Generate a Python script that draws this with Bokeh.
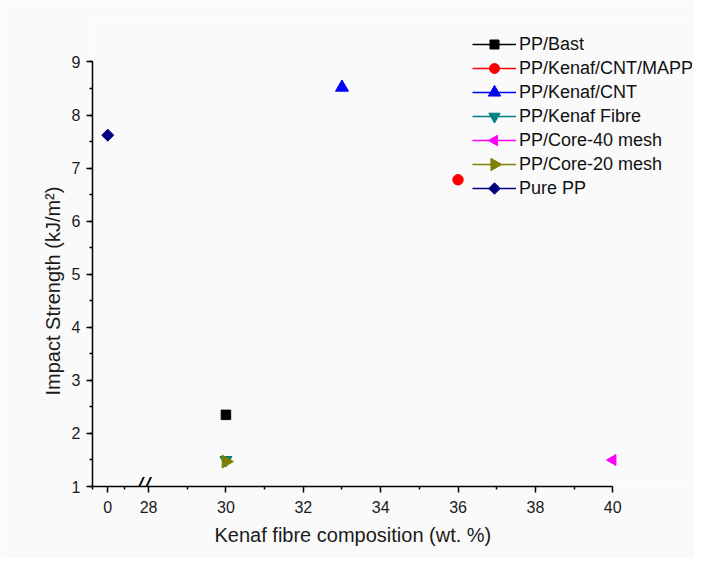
from math import pi
from bokeh.plotting import figure
from bokeh.models import (Range1d, FixedTicker, SingleIntervalTicker, Legend, LegendItem, Label, Title)
from bokeh.embed import file_html
from bokeh.resources import INLINE

# ---- data ----
series = ["PP/Bast", "PP/Kenaf/CNT/MAPP", "PP/Kenaf/CNT", "PP/Kenaf Fibre",
          "PP/Core-40 mesh", "PP/Core-20 mesh", "Pure PP"]
fibre = [30, 36, 33, 30, 40, 30, 0]                  # wt. %
impact = [2.35, 6.78, 8.52, 1.50, 1.50, 1.47, 7.62]  # kJ/m2
colors = ["#000000", "#ff0000", "#0000ff", "#008080", "#ff00ff", "#808000", "#000080"]
markers = ["square", "circle", "triangle", "inverted_triangle", "triangle", "triangle", "square"]
angles = [0, 0, 0, 0, pi / 2, -pi / 2, pi / 4]
sizes = [9.5, 10.5, 13, 12, 11, 13, 8.5]

x_major = [0, 28, 30, 32, 34, 36, 38, 40]
x_minor_right = [29, 31, 33, 35, 37, 39]

# broken axis: the value 0 is drawn just left of the 28..40 segment
ZERO_POS = 26.945
LEFT_END = 26.55
LEFT_MINOR = 27.367


def axis_pos(v):
    return ZERO_POS if v == 0 else v


FONT = "Liberation Sans"
W, H = 694, 558
ML, MR, MT, MB = 92, 2, 20, 72
FW, FH = W - ML - MR, H - MT - MB
PX_PER_X = 38.68
PX_PER_Y = 53.07

p = figure(width=W, height=H, output_backend="svg", toolbar_location=None,
           x_range=Range1d(LEFT_END, LEFT_END + FW / PX_PER_X),
           y_range=Range1d(1, 1 + FH / PX_PER_Y),
           min_border_left=ML, min_border_right=MR, min_border_top=MT, min_border_bottom=MB)
# pixel-based ranges over the frame, used for legend symbols
p.extra_x_ranges = {"lx": Range1d(0, FW)}
p.extra_y_ranges = {"ly": Range1d(0, FH)}

bg = "#fafafa"
p.background_fill_color = bg
p.border_fill_color = bg
p.outline_line_color = None
p.xgrid.visible = False
p.ygrid.visible = False

# legend geometry (pixels, relative to the plot frame)
LEG_X, LEG_Y = 380, 286
GLYPH_W, ROW_H = 44, 24

items = []
n = len(series)
for i, (name, xv, yv, c, m, a, s) in enumerate(zip(series, fibre, impact, colors, markers, angles, sizes)):
    xs = [axis_pos(xv)]
    ys = [yv]
    ln = p.line(xs, ys, line_color=c, line_width=1.5)
    p.scatter(xs, ys, marker=m, size=s, angle=a, fill_color=c, line_color=c)
    items.append(LegendItem(label=name, renderers=[ln]))
    # legend symbol drawn on top of the legend line (keeps marker rotation)
    p.scatter([LEG_X + GLYPH_W / 2], [LEG_Y + (n - i - 0.5) * ROW_H], marker=m,
              size=s * 0.95, angle=a, fill_color=c, line_color=c,
              x_range_name="lx", y_range_name="ly", level="overlay")

legend = Legend(items=items, location=(LEG_X, LEG_Y), padding=0, margin=0, spacing=0,
                glyph_width=GLYPH_W, glyph_height=ROW_H, label_height=ROW_H, label_standoff=3,
                label_text_font=FONT, label_text_font_size="18px", label_text_color="#111111",
                border_line_color=None, background_fill_alpha=0)
p.add_layout(legend, "center")

# x axis
xa = p.xaxis[0]
xa.ticker = FixedTicker(ticks=[axis_pos(v) for v in x_major],
                        minor_ticks=[LEFT_END + 0.01, LEFT_MINOR] + x_minor_right)
xa.major_label_overrides = {axis_pos(v): str(v) for v in x_major}
xa.bounds = (LEFT_END, 40)

# y axis
ya = p.yaxis[0]
ya.ticker = SingleIntervalTicker(interval=1, num_minor_ticks=2)
ya.bounds = (1, 9)

for ax in (xa, ya):
    ax.axis_line_color = "black"
    ax.axis_line_width = 1.5
    ax.major_tick_line_color = "black"
    ax.major_tick_line_width = 1.5
    ax.minor_tick_line_color = "black"
    ax.minor_tick_line_width = 1.5
    ax.major_tick_in = 0
    ax.major_tick_out = 6
    ax.minor_tick_in = 0
    ax.minor_tick_out = 3
    ax.major_label_text_font = FONT
    ax.major_label_text_font_size = "16px"
    ax.major_label_text_color = "#1a1a1a"

xa.major_label_standoff = 8
ya.major_label_standoff = 6

# axis titles as side titles, shifted so they sit where the reference has them
p.add_layout(Title(text="Kenaf fibre composition (wt. %)", align="left", offset=122,
                   text_font=FONT, text_font_size="20px", text_font_style="normal",
                   text_color="#1a1a1a", standoff=12), "below")
p.add_layout(Title(text="Impact Strength (kJ/m²)", align="left", offset=91,
                   text_font=FONT, text_font_size="20px", text_font_style="normal",
                   text_color="#1a1a1a", standoff=10), "left")

# axis break marker
p.add_layout(Label(x=27.84, y=1, text="//", text_align="center", text_baseline="middle",
                   text_font=FONT, text_font_size="26px", text_font_style="italic",
                   text_color="black"))

open("out.html", "w").write(file_html(p, INLINE))
